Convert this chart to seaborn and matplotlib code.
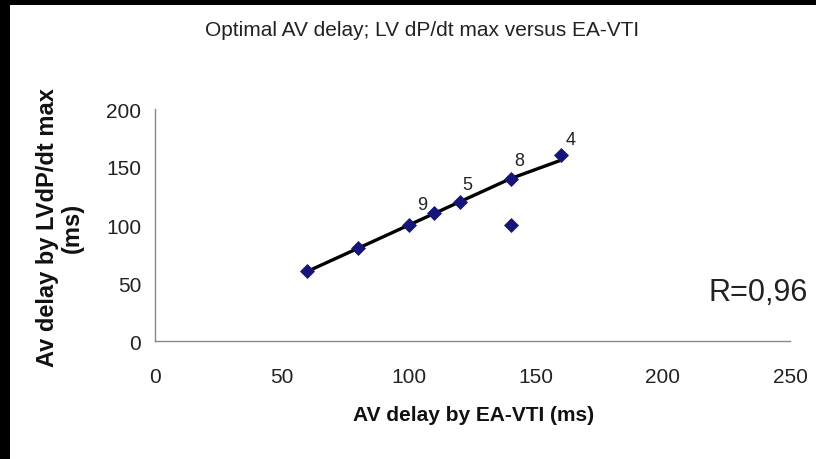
import numpy as np
import pandas as pd
import matplotlib
matplotlib.use('Agg')
import matplotlib.pyplot as plt
import seaborn as sns
from matplotlib.patches import Rectangle

# datos
av_ea_vti = [60, 80, 100, 110, 120, 140, 140, 160]
av_lv_dpdt = [60, 80, 100, 110, 120, 140, 100, 160]
linea_x = [60, 80, 100, 110, 120, 140, 160]
linea_y = [60, 80, 100, 110, 120, 140, 156]
etiquetas = ['9', '5', '8', '4']
etiquetas_x = [110, 120, 140, 160]
etiquetas_y = [110, 120, 140, 160]
etiquetas_off = [(-12, 9), (8, 17), (9, 18), (9, 16)]
xticks = [0, 50, 100, 150, 200, 250]
yticks = [0, 50, 100, 150, 200]

sns.set_style('white')
plt.rcParams['font.family'] = ['Liberation Sans', 'DejaVu Sans']

fig = plt.figure(figsize=(8.16, 4.6), dpi=100, facecolor='black')
fig.patches.append(Rectangle((10 / 816, 0), 1, 1 - 6 / 460, transform=fig.transFigure,
                             facecolor='white', edgecolor='none', zorder=-10))
ax = fig.add_axes([155 / 816, 1 - 342 / 460, 635 / 816, 232 / 460])
ax.set_facecolor('none')

datos = pd.DataFrame({'x': av_ea_vti, 'y': av_lv_dpdt})
linea = pd.DataFrame({'x': linea_x, 'y': linea_y})

sns.lineplot(data=linea, x='x', y='y', ax=ax, color='black', linewidth=2.4, zorder=2)
sns.scatterplot(data=datos, x='x', y='y', ax=ax, marker='D', s=50, color='#16167a',
                edgecolor='#16167a', zorder=3)

for t, x, y, off in zip(etiquetas, etiquetas_x, etiquetas_y, etiquetas_off):
    ax.annotate(t, (x, y), xytext=off, textcoords='offset pixels', fontsize=13,
                ha='center', va='center', color='#222222')

ax.set_xlim(0, 250)
ax.set_ylim(0, 200)
ax.set_xticks(xticks)
ax.set_yticks(yticks)
ax.tick_params(axis='both', labelsize=15, colors='#888888', labelcolor='#222222',
               length=4, width=1)
ax.tick_params(axis='x', direction='inout', pad=17)
ax.tick_params(axis='y', direction='out', pad=6)
for lado in ['top', 'right']:
    ax.spines[lado].set_visible(False)
for lado in ['left', 'bottom']:
    ax.spines[lado].set_color('#888888')
    ax.spines[lado].set_linewidth(1)

ax.set_xlabel('')
ax.set_ylabel('')
fig.text(474 / 816, 1 - 416 / 460, 'AV delay by EA-VTI (ms)', ha='center', va='center',
         fontsize=15, fontweight='bold', color='#111111')
fig.text(60 / 816, 1 - 228 / 460, 'Av delay by LVdP/dt max\n(ms)', ha='center', va='center',
         rotation=90, fontsize=17, fontweight='bold', color='#111111', linespacing=1.1)

fig.text(422 / 816, 1 - 31 / 460, 'Optimal AV delay; LV dP/dt max versus EA-VTI',
         ha='center', va='center', fontsize=15, color='#222222')
fig.text(758 / 816, 1 - 293 / 460, 'R=0,96', ha='center', va='center',
         fontsize=22, color='#222222')

plt.savefig('out.png', dpi=100, facecolor=fig.get_facecolor())
